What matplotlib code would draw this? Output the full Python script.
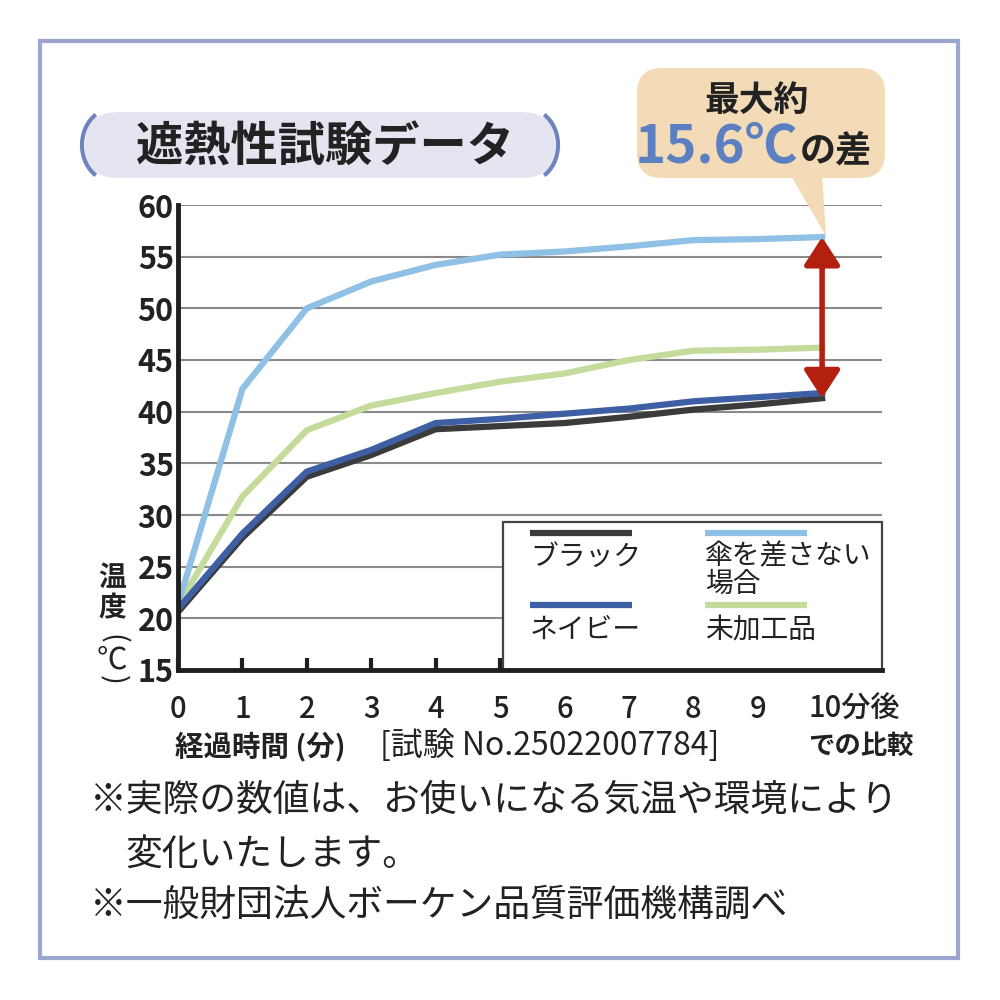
import matplotlib
matplotlib.use("Agg")
import matplotlib.pyplot as plt
from matplotlib.patches import FancyBboxPatch, Rectangle, Polygon, Arc
from matplotlib.lines import Line2D
import matplotlib.transforms as mtransforms

plt.rcParams['font.family'] = ['Noto Sans CJK JP', 'DejaVu Sans']

# ---- data ----
minutes = [0, 1, 2, 3, 4, 5, 6, 7, 8, 9, 10]
black = [20.6, 27.8, 33.7, 35.8, 38.3, 38.6, 38.9, 39.5, 40.2, 40.7, 41.3]
navy = [20.9, 28.2, 34.2, 36.3, 38.9, 39.3, 39.8, 40.3, 41.0, 41.4, 41.8]
no_umbrella = [21.3, 42.2, 50.0, 52.6, 54.2, 55.2, 55.5, 56.0, 56.6, 56.7, 56.9]
untreated = [21.2, 31.8, 38.2, 40.6, 41.8, 42.9, 43.7, 45.0, 45.9, 46.0, 46.2]
series_names = ['ブラック', 'ネイビー', '傘を差さない\n場合', '未加工品']
series_colors = ['#3b3b3b', '#3e5fa4', '#8fc0e6', '#c4db9c']
yticks = [15, 20, 25, 30, 35, 40, 45, 50, 55, 60]
xtick_labels = ['0', '1', '2', '3', '4', '5', '6', '7', '8', '9', '10分後']

title = '遮熱性試験データ'
dark = '#222222'

fig = plt.figure(figsize=(10, 10), dpi=100)
fig.patch.set_facecolor('white')

# outer frame
fig.patches.append(Rectangle((0.040, 0.042), 0.918, 0.917, transform=fig.transFigure,
                             fill=False, edgecolor='#9ca5cf', lw=3))

# title pill
fig.patches.append(FancyBboxPatch((0.085, 0.822), 0.47, 0.066, transform=fig.transFigure,
                                  boxstyle='round,pad=0,rounding_size=0.033',
                                  facecolor='#e5e5f2', edgecolor='none'))
fig.patches.append(Arc((0.112, 0.855), 0.06, 0.072, theta1=118, theta2=242,
                       transform=fig.transFigure, color='#6f83c0', lw=3))
fig.patches.append(Arc((0.528, 0.855), 0.06, 0.072, theta1=-62, theta2=62,
                       transform=fig.transFigure, color='#6f83c0', lw=3))
fig.text(0.325, 0.852, title, ha='center', va='center', fontsize=34,
         fontweight='bold', color=dark)

# callout
fig.patches.append(FancyBboxPatch((0.637, 0.822), 0.248, 0.110, transform=fig.transFigure,
                                  boxstyle='round,pad=0,rounding_size=0.025',
                                  facecolor='#f2dbb6', edgecolor='none'))
fig.patches.append(Polygon([(0.790, 0.826), (0.822, 0.826), (0.826, 0.764)],
                           closed=True, transform=fig.transFigure,
                           facecolor='#f2dbb6', edgecolor='none'))
fig.text(0.757, 0.900, '最大約', ha='center', va='center', fontsize=25,
         fontweight='bold', color=dark)
fig.text(0.798, 0.838, '15.6℃', ha='right', va='baseline', fontsize=38,
         fontweight='bold', color='#5b7fc1')
fig.text(0.800, 0.838, 'の差', ha='left', va='baseline', fontsize=26,
         fontweight='bold', color=dark)

# axes
ax = fig.add_axes([0.178, 0.330, 0.704, 0.465])
ax.set_xlim(0, 10.93)
ax.set_ylim(15, 60)
for s in ['top', 'right']:
    ax.spines[s].set_visible(False)
for s in ['left', 'bottom']:
    ax.spines[s].set_linewidth(3.5)
    ax.spines[s].set_color('#1e1e1e')
    ax.spines[s].set_zorder(5)

for yv in yticks[1:]:
    ax.axhline(yv, color='#8a8a8a', lw=1.5, zorder=1)

ax.set_yticks(yticks)
ax.set_yticklabels([str(v) for v in yticks], fontsize=22, fontweight='bold', color=dark)
ax.tick_params(axis='y', length=0, pad=3)
ax.set_xticks(minutes)
ax.set_xticklabels(xtick_labels, fontsize=21, fontweight='medium', color=dark)
ax.tick_params(axis='x', direction='in', length=9, width=3, color='#1e1e1e', pad=17)
last = ax.get_xticklabels()[-1]
last.set_horizontalalignment('left')
last.set_transform(last.get_transform() + mtransforms.ScaledTranslation(-14/100, 0, fig.dpi_scale_trans))

series = [black, navy, no_umbrella, untreated]
order = [3, 2, 0, 1]
for i in order:
    ax.plot(minutes, series[i], color=series_colors[i], lw=4.5, zorder=3,
            solid_joinstyle='miter')

# difference arrow
ax.annotate('', xy=(minutes[-1], no_umbrella[-1]), xytext=(minutes[-1], black[-1]),
            arrowprops=dict(arrowstyle='<|-|>,head_length=0.85,head_width=0.55',
                            color='#b3200f', lw=4, shrinkA=0, shrinkB=0,
                            mutation_scale=20), zorder=4)

# legend (manual)
def ax_fx(px):
    return (px - 178) / 704.0
def ax_fy(py):
    return (670 - py) / 465.0

ax.add_patch(Rectangle((ax_fx(503), 0), ax_fx(882) - ax_fx(503), ax_fy(522),
                       transform=ax.transAxes, facecolor='white',
                       edgecolor='#444444', lw=1.6, zorder=4, clip_on=False))
leg_pos = [(530, 533, 557), (530, 605, 630), (705, 533, 570), (705, 605, 630)]
for i, (lx, ly, ty) in enumerate(leg_pos):
    ax.add_line(Line2D([ax_fx(lx), ax_fx(lx + 102)], [ax_fy(ly), ax_fy(ly)],
                       transform=ax.transAxes, color=series_colors[i], lw=4.5,
                       zorder=6, clip_on=False, solid_capstyle='butt'))
    ax.text(ax_fx(lx), ax_fy(ty), series_names[i], transform=ax.transAxes,
            ha='left', va='center', fontsize=20, color=dark, zorder=6,
            linespacing=0.92)

# y label (vertical writing)
fig.text(0.112, 0.422, '温', ha='center', va='center', fontsize=20,
         fontweight='bold', color=dark)
fig.text(0.112, 0.392, '度', ha='center', va='center', fontsize=20,
         fontweight='bold', color=dark)
fig.text(0.112, 0.361, '(', ha='center', va='center', fontsize=21, rotation=-90,
         color=dark)
fig.text(0.112, 0.340, '℃', ha='center', va='center', fontsize=22,
         color=dark)
fig.text(0.112, 0.320, ')', ha='center', va='center', fontsize=21, rotation=-90,
         color=dark)

# x labels
fig.text(0.175, 0.254, '経過時間 (分)', ha='left', va='center', fontsize=20.5,
         fontweight='bold', color=dark)
fig.text(0.380, 0.254, '[試験 No.25022007784]', ha='left', va='center', fontsize=23,
         color=dark)
fig.text(0.808, 0.254, 'での比較', ha='left', va='center', fontsize=19,
         fontweight='bold', color=dark)

# notes
fig.text(0.090, 0.200, '※実際の数値は、お使いになる気温や環境により', ha='left',
         va='center', fontsize=26.5, color=dark)
fig.text(0.125, 0.146, '変化いたします。', ha='left', va='center', fontsize=26.5, color=dark)
fig.text(0.090, 0.095, '※一般財団法人ボーケン品質評価機構調べ', ha='left',
         va='center', fontsize=26.5, color=dark)

fig.savefig('out.png', dpi=100, facecolor='white')
